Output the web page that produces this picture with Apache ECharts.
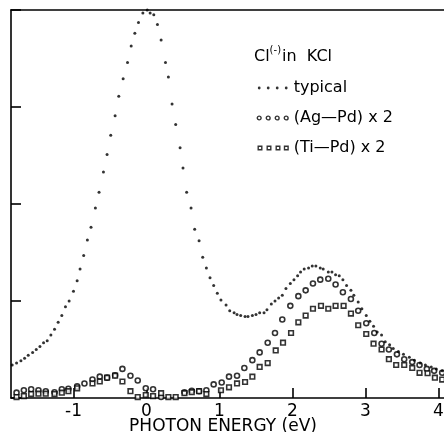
<!DOCTYPE html>
<html>
<head>
<meta charset="utf-8">
<script src="https://cdn.jsdelivr.net/npm/echarts@6/dist/echarts.min.js"></script>
<style>
html,body{margin:0;padding:0;background:#fff;}
#chart{width:444px;height:432px;}
</style>
</head>
<body>
<div id="chart"></div>
<script>
// ---- data (x: photon energy in eV, y: relative intensity) ----
const xTickValues = [-1, 0, 1, 2, 3, 4];
const yTickValues = [0, 1, 2, 3, 4];

const typicalX = [-1.84,-1.78,-1.72,-1.67,-1.62,-1.56,-1.51,-1.46,-1.41,-1.36,-1.31,-1.26,-1.21,-1.16,-1.11,-1.06,-1.00,-0.95,-0.91,-0.86,-0.81,-0.76,-0.70,-0.65,-0.59,-0.54,-0.49,-0.43,-0.38,-0.32,-0.26,-0.21,-0.16,-0.11,-0.05,0.01,0.05,0.10,0.15,0.20,0.26,0.30,0.35,0.40,0.46,0.50,0.55,0.61,0.66,0.72,0.77,0.82,0.87,0.92,0.97,1.02,1.09,1.14,1.20,1.24,1.29,1.35,1.39,1.45,1.50,1.55,1.61,1.65,1.71,1.76,1.81,1.86,1.91,1.97,2.02,2.07,2.11,2.16,2.22,2.27,2.32,2.38,2.42,2.49,2.54,2.59,2.64,2.69,2.74,2.80,2.84,2.90,2.95,3.01,3.06,3.11,3.16,3.22,3.27,3.33,3.38,3.45,3.52,3.60,3.67,3.75,3.82,3.90,3.97,4.05];
const typicalY = [0.34,0.36,0.385,0.41,0.44,0.47,0.50,0.53,0.57,0.59,0.65,0.71,0.78,0.85,0.94,1.00,1.10,1.21,1.33,1.47,1.63,1.76,1.96,2.12,2.33,2.51,2.71,2.91,3.11,3.29,3.46,3.63,3.76,3.87,3.97,4.00,3.97,3.95,3.85,3.69,3.46,3.31,3.03,2.82,2.58,2.37,2.12,1.96,1.74,1.62,1.45,1.34,1.24,1.16,1.08,1.01,0.96,0.90,0.88,0.86,0.85,0.84,0.84,0.85,0.86,0.88,0.88,0.91,0.97,1.00,1.03,1.06,1.13,1.18,1.22,1.26,1.30,1.33,1.34,1.36,1.36,1.34,1.33,1.30,1.30,1.27,1.26,1.22,1.16,1.11,1.06,0.99,0.92,0.85,0.79,0.74,0.68,0.65,0.58,0.55,0.51,0.48,0.45,0.42,0.39,0.36,0.34,0.32,0.30,0.28];

const agX = [-1.78,-1.68,-1.58,-1.48,-1.38,-1.26,-1.16,-1.07,-0.95,-0.85,-0.74,-0.64,-0.54,-0.43,-0.33,-0.22,-0.12,-0.01,0.09,0.20,0.40,0.52,0.62,0.72,0.82,0.92,1.03,1.13,1.24,1.34,1.45,1.55,1.66,1.76,1.86,1.97,2.08,2.18,2.28,2.38,2.49,2.59,2.69,2.80,2.90,3.01,3.12,3.22,3.32,3.43,3.53,3.64,3.74,3.84,3.94,4.05];
const agY = [0.055,0.08,0.09,0.08,0.07,0.06,0.09,0.095,0.12,0.15,0.19,0.22,0.21,0.235,0.30,0.23,0.18,0.10,0.09,0.01,-0.04,0.06,0.075,0.07,0.08,0.14,0.16,0.22,0.23,0.31,0.39,0.47,0.57,0.67,0.81,0.95,1.05,1.11,1.18,1.22,1.23,1.17,1.09,1.02,0.90,0.77,0.67,0.56,0.50,0.45,0.40,0.37,0.34,0.30,0.28,0.26];

const tiX = [-1.78,-1.68,-1.58,-1.48,-1.38,-1.26,-1.16,-1.07,-0.95,-0.74,-0.64,-0.54,-0.43,-0.33,-0.22,-0.12,-0.01,0.09,0.20,0.30,0.40,0.52,0.62,0.72,0.82,1.02,1.13,1.24,1.35,1.45,1.55,1.66,1.77,1.87,1.98,2.08,2.18,2.28,2.39,2.49,2.59,2.70,2.80,2.90,3.01,3.11,3.22,3.32,3.42,3.53,3.64,3.74,3.85,3.95,4.05];
const tiY = [0.01,0.02,0.04,0.045,0.045,0.04,0.055,0.07,0.10,0.15,0.17,0.21,0.23,0.17,0.07,0.01,0.03,0.02,0.05,0.01,0.01,0.05,0.06,0.07,0.04,0.08,0.11,0.15,0.165,0.22,0.32,0.36,0.49,0.57,0.67,0.78,0.85,0.92,0.95,0.92,0.95,0.95,0.87,0.75,0.66,0.56,0.50,0.40,0.34,0.34,0.31,0.26,0.255,0.21,0.19];

const seriesNames = ['typical', '(Ag\u2014Pd) x 2', '(Ti\u2014Pd) x 2'];

function pairs(xs, ys) { return xs.map((x, i) => [x, ys[i]]); }

const FONT = 'DejaVu Sans';
const dotsIcon = 'path://M0,0M32,5M1.1,2.5a1.4,1.4 0 1,0 2.8,0a1.4,1.4 0 1,0 -2.8,0zM10.1,2.5a1.4,1.4 0 1,0 2.8,0a1.4,1.4 0 1,0 -2.8,0zM19.1,2.5a1.4,1.4 0 1,0 2.8,0a1.4,1.4 0 1,0 -2.8,0zM28.1,2.5a1.4,1.4 0 1,0 2.8,0a1.4,1.4 0 1,0 -2.8,0z';
const ringsIcon = 'path://M0,0M32,5M0.6,2.5a1.9,1.9 0 1,0 3.8,0a1.9,1.9 0 1,0 -3.8,0zM9.6,2.5a1.9,1.9 0 1,0 3.8,0a1.9,1.9 0 1,0 -3.8,0zM18.6,2.5a1.9,1.9 0 1,0 3.8,0a1.9,1.9 0 1,0 -3.8,0zM27.6,2.5a1.9,1.9 0 1,0 3.8,0a1.9,1.9 0 1,0 -3.8,0z';
const squaresIcon = 'path://M0,0M32,5M1.5,0.7h3.6v3.6h-3.6zM10.5,0.7h3.6v3.6h-3.6zM19.5,0.7h3.6v3.6h-3.6zM27.8,0.7h3.6v3.6h-3.6z';

const chart = echarts.init(document.getElementById('chart'), null, { renderer: 'canvas' });
chart.setOption({
  animation: false,
  backgroundColor: '#fff',
  textStyle: { fontFamily: FONT },
  title: {
    text: '{a|Cl}{s|(-)}{a|in  KCl}',
    left: 249, top: 40,
    textStyle: {
      rich: {
        a: { fontSize: 16, fontFamily: FONT, fontWeight: 'normal', color: '#000', verticalAlign: 'bottom', lineHeight: 20 },
        s: { fontSize: 10, fontFamily: FONT, fontWeight: 'normal', color: '#000', verticalAlign: 'top', lineHeight: 20, padding: [0, 1, 8, 0] }
      }
    }
  },
  legend: {
    orient: 'vertical',
    left: 251, top: 74,
    itemWidth: 32, itemHeight: 5,
    itemGap: 12,
    symbolKeepAspect: true,
    selectedMode: false,
    textStyle: { fontSize: 16, fontFamily: FONT, color: '#000', lineHeight: 18 },
    data: [
      { name: seriesNames[0], icon: dotsIcon, itemStyle: { color: '#000', borderWidth: 0 } },
      { name: seriesNames[1], icon: ringsIcon, itemStyle: { color: '#fff', borderColor: '#000', borderWidth: 1.4 } },
      { name: seriesNames[2], icon: squaresIcon, itemStyle: { color: '#fff', borderColor: '#000', borderWidth: 1.4 } }
    ]
  },
  grid: { left: 11, right: 0, top: 10, bottom: 34, containLabel: false, outerBoundsMode: 'none' },
  xAxis: [{
    type: 'value',
    min: -1.856, max: 4.075,
    axisLine: { show: true, onZero: false, lineStyle: { color: '#000', width: 1.6 } },
    axisTick: { show: true, inside: true, length: 10, customValues: xTickValues, lineStyle: { color: '#000', width: 1.6 } },
    axisLabel: { show: true, customValues: xTickValues, fontSize: 17, fontFamily: FONT, color: '#000', margin: 5,
                 formatter: v => String(v) },
    splitLine: { show: false },
    name: 'PHOTON ENERGY (eV)',
    nameLocation: 'middle',
    nameGap: 20,
    nameMoveOverlap: false,
    nameTextStyle: { fontSize: 17, fontFamily: FONT, color: '#000', padding: [0, 9, 0, 0], verticalAlign: 'top' }
  }, {
    type: 'value',
    position: 'top',
    min: -1.856, max: 4.075,
    axisLine: { show: true, onZero: false, lineStyle: { color: '#000', width: 1.6 } },
    axisTick: { show: false },
    axisLabel: { show: false },
    splitLine: { show: false }
  }],
  yAxis: {
    type: 'value',
    min: 0, max: 4, interval: 1,
    axisLine: { show: true, onZero: false, lineStyle: { color: '#000', width: 1.6 } },
    axisTick: { show: true, inside: true, length: 10, lineStyle: { color: '#000', width: 1.6 } },
    axisLabel: { show: false },
    splitLine: { show: false }
  },
  series: [
    {
      name: seriesNames[1], type: 'scatter', xAxisIndex: 0,
      data: pairs(agX, agY), symbol: 'circle', symbolSize: 5,
      itemStyle: { color: '#fff', borderColor: '#000', borderWidth: 1.6 }
    },
    {
      name: seriesNames[2], type: 'scatter', xAxisIndex: 0,
      data: pairs(tiX, tiY), symbol: 'rect', symbolSize: 4.6,
      itemStyle: { color: '#fff', borderColor: '#000', borderWidth: 1.6 }
    },
    {
      name: seriesNames[0], type: 'scatter', xAxisIndex: 0,
      data: pairs(typicalX, typicalY), symbol: 'circle', symbolSize: 3,
      itemStyle: { color: '#000' }
    }
  ]
});
</script>
</body>
</html>
